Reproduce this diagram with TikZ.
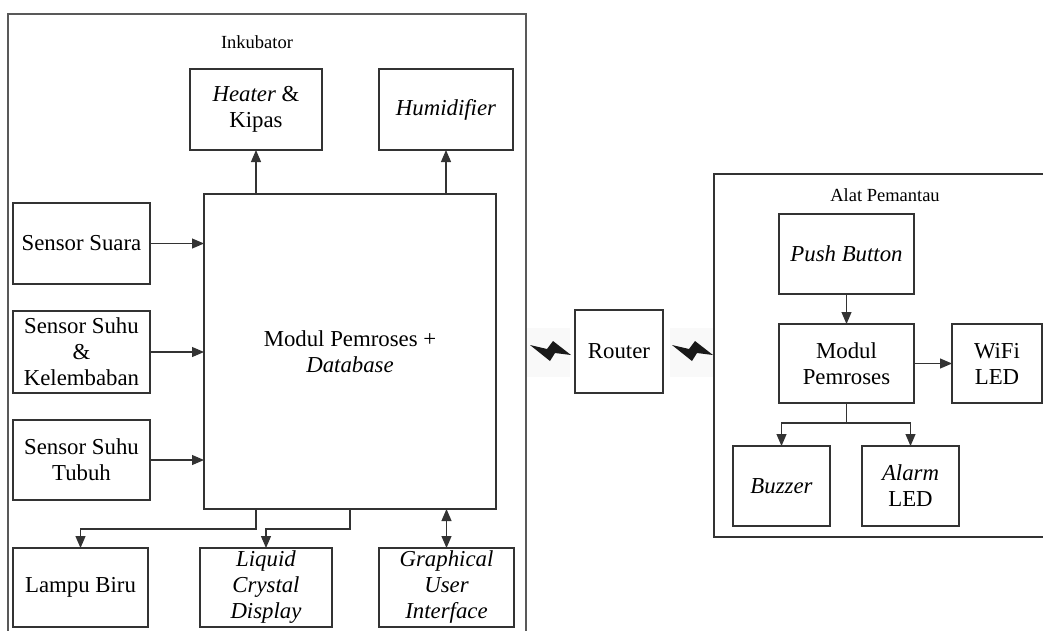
\documentclass[tikz,border=0pt]{standalone}
\usepackage{fontspec}
\setmainfont{Liberation Serif}
\usetikzlibrary{arrows.meta}
\begin{document}
\begin{tikzpicture}[x=1pt,y=-1pt,
  box/.style={draw=black!80,line width=1.1pt,inner sep=0pt,outer sep=0pt,align=center,font=\fontsize{22.8}{26}\selectfont},
  wh/.style 2 args={minimum width=#1pt,minimum height=#2pt},
  lbl/.style={inner sep=0pt,font=\fontsize{18.5}{22}\selectfont},
  frame/.style={draw=black!65,line width=1.3pt},
  arr/.style={draw=black!80,line width=1.1pt,-{Triangle[length=12pt,width=10pt]}},
  dbl/.style={draw=black!80,line width=1.1pt,{Triangle[length=12pt,width=10pt]}-{Triangle[length=12pt,width=10pt]}},
  bolt/.style={fill=black!90},
  boltbg/.style={fill=black!2.5}]
\useasboundingbox (0,0) rectangle (1043,630);

% wireless backgrounds and bolts
\fill[boltbg] (527,328) rectangle (570,377);
\fill[boltbg] (670,328) rectangle (713,377);
\foreach \dx in {0,142}{
  \fill[bolt,shift={(\dx,0)}] (530,345) -- (547,349) -- (553,341) -- (571,355) -- (555,353) -- (550,361) -- cycle;
}

% frames
\draw[frame] (8,632) -- (8,14) -- (526,14) -- (526,632);
\node[lbl] (inkl) at (257,42) {Inkubator};
\draw[frame,draw=black!80] (1048,537) -- (714,537) -- (714,174) -- (1048,174);
\node[lbl] (alatl) at (885,195) {Alat Pemantau};

% Inkubator nodes
\node[box,wh={132}{81}] (heater) at (256,109.5) {\textit{Heater} \&\\Kipas};
\node[box,wh={134}{81}] (humid) at (446,109.5) {\textit{Humidifier}};
\node[box,wh={292}{315}] (modul) at (350,351.5) {Modul Pemroses +\\\textit{Database}};
\node[box,wh={137}{81}] (suara) at (81.5,243.5) {Sensor Suara};
\node[box,wh={137}{82}] (suhu) at (81.5,352) {Sensor Suhu\\\&\\Kelembaban};
\node[box,wh={137}{80}] (tubuh) at (81.5,460) {Sensor Suhu\\Tubuh};
\node[box,wh={135}{79}] (lampu) at (80.5,587.5) {Lampu Biru};
\node[box,wh={132}{79}] (lcd) at (266,587.5) {\textit{Liquid}\\\textit{Crystal}\\\textit{Display}};
\node[box,wh={135}{79}] (gui) at (446.5,587.5) {\textit{Graphical}\\\textit{User}\\\textit{Interface}};

% Router
\node[box,wh={88}{83}] (router) at (619,351.5) {Router};

% Alat Pemantau nodes
\node[box,wh={135}{80}] (push) at (846.5,254) {\textit{Push Button}};
\node[box,wh={135}{79}] (modul2) at (846.5,363.5) {Modul\\Pemroses};
\node[box,wh={90}{79}] (wifi) at (997,363.5) {WiFi\\LED};
\node[box,wh={97}{80}] (buzzer) at (781.5,486) {\textit{Buzzer}};
\node[box,wh={97}{80}] (alarm) at (910.5,486) {\textit{Alarm}\\LED};

% Inkubator connectors
\draw[arr] (modul.north -| heater.south) -- (heater.south);
\draw[arr] (modul.north -| humid.south) -- (humid.south);
\draw[arr] (suara.east) -- (suara.east -| modul.west);
\draw[arr] (suhu.east) -- (suhu.east -| modul.west);
\draw[arr] (tubuh.east) -- (tubuh.east -| modul.west);
\draw[arr] (modul.south -| heater.south) -- ++(0,20) -| (lampu.north);
\draw[arr] (modul.south) -- ++(0,20) -| (lcd.north);
\draw[dbl] (modul.south -| gui.north) -- (gui.north);

% Alat connectors
\draw[arr] (push.south) -- (modul2.north);
\draw[arr] (modul2.east) -- (wifi.west);
\draw[arr] (modul2.south) -- ++(0,20) -| (buzzer.north);
\draw[arr] (modul2.south) -- ++(0,20) -| (alarm.north);
\end{tikzpicture}
\end{document}
